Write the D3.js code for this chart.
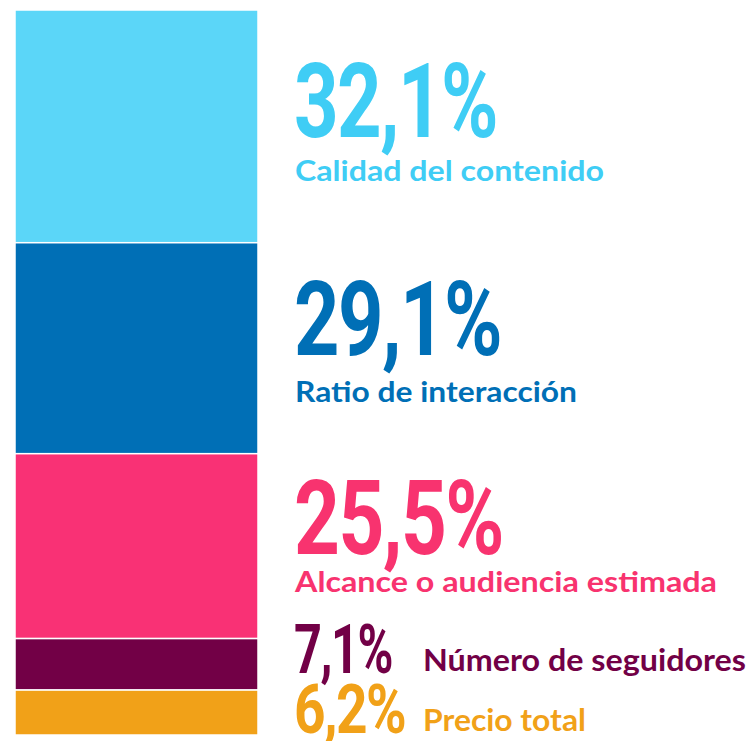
<!DOCTYPE html>
<html lang="es">
  <head>
    <meta charset="utf-8">
    <title>Factores</title>
    <script src="https://d3js.org/d3.v7.js"></script>
    <style>
      body { margin: 0; background: #fff; }
    </style>
  </head>
  <body>
    <script>

  // width and height
  var w = 751;
  var h = 741;

  // data
  var labels = ["Calidad del contenido", "Ratio de interacción", "Alcance o audiencia estimada", "Número de seguidores", "Precio total"];
  var values = [32.1, 29.1, 25.5, 7.1, 6.2];
  var valueLabels = ["32,1%", "29,1%", "25,5%", "7,1%", "6,2%"];

  // colours
  var barColors = ["#5bd6f8", "#006fb6", "#f93175", "#720046", "#f1a118"];
  var textColors = ["#3fcdf5", "#006fb6", "#f8336f", "#720046", "#f1a118"];

  // layout per item (offsets from the segment middle)
  var layout = [
    { numDy: 11, numW: 203, numSize: 104, labDy: 55, labW: 309, labSize: 28, labX: 295 },
    { numDy: 7,  numW: 207, numSize: 104, labDy: 54, labW: 282, labSize: 28, labX: 295 },
    { numDy: 8,  numW: 209, numSize: 104, labDy: 46, labW: 422, labSize: 28, labX: 295 },
    { numDy: 9,  numW: 98,  numSize: 68,  labDy: 7,  labW: 323, labSize: 30, labX: 423 },
    { numDy: 20, numW: 111, numSize: 68,  labDy: 18, labW: 163, labSize: 30, labX: 423 }
  ];

  // stack the single bar
  var rows = [];
  var acc = 0;
  values.forEach(function (v, i) {
    rows.push({ i: i, y0: acc, y1: acc + v });
    acc += v;
  });

  var yScale = d3.scaleLinear()
    .domain([0, d3.sum(values)])
    .range([10, 735]);

  var svg = d3.select("body")
    .append("svg")
    .attr("width", w)
    .attr("height", h);

  svg.selectAll("rect")
    .data(rows)
    .enter()
    .append("rect")
    .attr("x", 15)
    .attr("width", 243)
    .attr("y", d => yScale(d.y0))
    .attr("height", d => yScale(d.y1) - yScale(d.y0))
    .attr("fill", d => barColors[d.i])
    .attr("stroke", "#fff")
    .attr("stroke-width", 1.5);

  // number labels, squeezed to a condensed look
  svg.selectAll("text.num")
    .data(rows)
    .enter()
    .append("text")
    .attr("class", "num")
    .attr("x", 294)
    .attr("y", d => (yScale(d.y0) + yScale(d.y1)) / 2 + layout[d.i].numDy)
    .attr("font-family", "Roboto")
    .attr("font-weight", 700)
    .attr("font-size", d => layout[d.i].numSize)
    .attr("letter-spacing", -2)
    .attr("textLength", d => layout[d.i].numW)
    .attr("lengthAdjust", "spacingAndGlyphs")
    .attr("fill", d => textColors[d.i])
    .text(d => valueLabels[d.i]);

  svg.selectAll("text.lab")
    .data(rows)
    .enter()
    .append("text")
    .attr("class", "lab")
    .attr("x", d => layout[d.i].labX)
    .attr("y", d => (yScale(d.y0) + yScale(d.y1)) / 2 + layout[d.i].labDy)
    .attr("font-family", "Lato")
    .attr("font-weight", 700)
    .attr("font-size", d => layout[d.i].labSize)
    .attr("textLength", d => layout[d.i].labW)
    .attr("lengthAdjust", "spacingAndGlyphs")
    .attr("fill", d => textColors[d.i])
    .text(d => labels[d.i]);

    </script>
  </body>
</html>
